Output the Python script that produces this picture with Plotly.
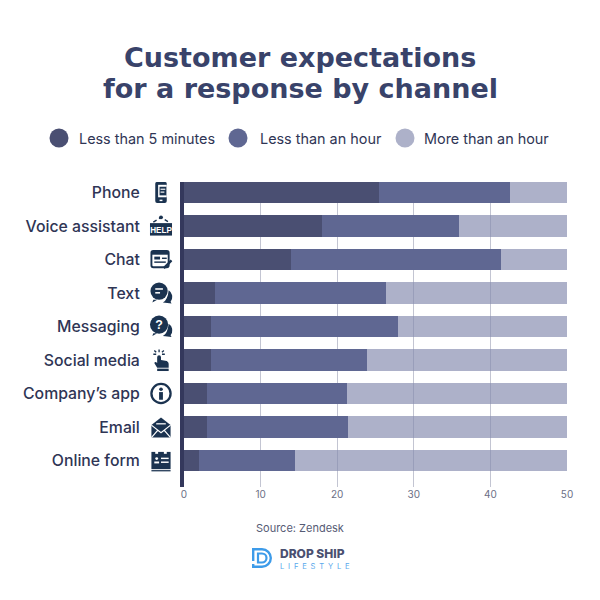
import base64
import plotly.graph_objects as go

categories = ["Phone", "Voice assistant", "Chat", "Text", "Messaging", "Social media", "Company’s app", "Email", "Online form"]
under_5_min = [25.4, 18.0, 14.0, 4.0, 3.5, 3.5, 3.0, 3.0, 2.0]
under_hour = [17.1, 17.9, 27.4, 22.4, 24.5, 20.4, 18.3, 18.4, 12.5]
over_hour = [7.5, 14.1, 8.6, 23.6, 22.0, 26.1, 28.7, 28.6, 35.5]
series_names = ["Less than 5 minutes", "Less than an hour", "More than an hour"]
x_ticks = [0, 10, 20, 30, 40, 50]
title_lines = ["Customer expectations", "for a response by channel"]
source_text = "Source: Zendesk"

FONT = "Inter"
W = H = 600
L, R, T, B = 184, 567, 182, 487
NAVY = "#1b3350"

ICONS = [
    '<rect x="6" y="1" width="12" height="22" rx="2" fill="{c}"/><rect x="9" y="4" width="9" height="13" fill="#fff"/><rect x="10.5" y="6" width="7" height="9" fill="{c}"/><rect x="11.5" y="8" width="5" height="1.2" fill="#fff"/><rect x="11.5" y="11" width="4" height="1.2" fill="#fff"/><rect x="10.5" y="19.5" width="3" height="1.5" fill="#fff"/>',
    '<path d="M4 8 L12 3 L20 8" fill="none" stroke="{c}" stroke-width="1.5" stroke-dasharray="4 3"/><circle cx="12" cy="3" r="2" fill="{c}"/><rect x="0.5" y="9" width="23" height="13" fill="{c}"/><text x="12" y="19" font-family="Liberation Sans" font-weight="700" font-size="8.5" text-anchor="middle" fill="#fff">HELP</text>',
    '<rect x="2" y="3" width="18" height="17" rx="2" fill="none" stroke="{c}" stroke-width="2"/><rect x="2" y="3" width="18" height="4" fill="{c}"/><rect x="5" y="9" width="6" height="3" fill="{c}"/><rect x="13" y="10" width="5" height="1.5" fill="{c}"/><rect x="5" y="14" width="12" height="1.5" fill="{c}"/><path d="M15 21 L23 13" stroke="{c}" stroke-width="2.5"/>',
    '<circle cx="10" cy="10" r="9" fill="{c}"/><path d="M4 19 L3 22 L8 19Z" fill="{c}"/><rect x="6" y="7" width="8" height="1.6" fill="#fff"/><rect x="6" y="11" width="5" height="1.6" fill="#fff"/><path d="M20 9 A8 8 0 0 1 22 21 L23 23 L14 22 Q19 19 20 9Z" fill="{c}"/>',
    '<circle cx="10" cy="10" r="9.5" fill="{c}"/><path d="M4 19 L3 22 L8 19Z" fill="{c}"/><text x="10" y="15" font-family="Liberation Sans" font-weight="700" font-size="13" text-anchor="middle" fill="#fff">?</text><path d="M20 9 A8 8 0 0 1 22 21 L23 23 L14 22 Q19 19 20 9Z" fill="{c}"/>',
    '<path d="M8 9 Q8 7 10 7 Q12 7 12 9 L12 12 L18 13 Q20 14 20 16 L20 20 L8 20 L5 15 Q6 13 8 15Z" fill="{c}"/><rect x="8" y="21" width="12" height="2.5" fill="{c}"/><path d="M10 1 V4 M4 6 H7 M5 2 L7 4 M15 2 L13 4 M13 6 H16" stroke="{c}" stroke-width="1.4"/>',
    '<circle cx="12" cy="12" r="10" fill="none" stroke="{c}" stroke-width="2.4"/><circle cx="12" cy="7.5" r="1.9" fill="{c}"/><rect x="10" y="10.5" width="4" height="8" fill="{c}"/>',
    '<path d="M2 10 L12 2 L22 10 L22 23 L2 23Z" fill="{c}"/><path d="M2 10 L12 18 L22 10 M2 23 L9 15 M22 23 L15 15" fill="none" stroke="#fff" stroke-width="1.3"/><rect x="7" y="8" width="10" height="1.3" fill="#fff"/>',
    '<rect x="2" y="3" width="20" height="18" fill="{c}"/><rect x="6" y="1" width="3" height="4" fill="#fff"/><rect x="15" y="1" width="3" height="4" fill="#fff"/><circle cx="7.5" cy="10" r="1.5" fill="#fff"/><rect x="5" y="13" width="5" height="2" fill="#fff"/><rect x="12" y="9" width="8" height="1.5" fill="#fff"/><rect x="12" y="13" width="8" height="1.5" fill="#fff"/><rect x="2" y="22" width="20" height="1.3" fill="{c}"/>',
]
LOGO = ('<path d="M1.2 13 V1.2 H10 A8.8 8.8 0 0 1 10 18.8 H1.2 V16" fill="none" stroke="#3d9be9" stroke-width="2.4"/>'
        '<path d="M6 5.5 H10 A4.5 4.5 0 0 1 10 14.5 H6 Z" fill="none" stroke="#3d9be9" stroke-width="2.2"/>')


def svg(body, vb="0 0 24 24"):
    s = f'<svg xmlns="http://www.w3.org/2000/svg" viewBox="{vb}">{body}</svg>'
    return "data:image/svg+xml;base64," + base64.b64encode(s.encode()).decode()


fig = go.Figure()
colors = ["#4a4f72", "#5f6792", "rgba(133,139,175,0.67)"]
for name, vals, col in zip(series_names, [under_5_min, under_hour, over_hour], colors):
    fig.add_bar(y=categories, x=vals, name=name, orientation="h", marker=dict(color=col, line_width=0),
                width=0.63, showlegend=False)

images = []
for i, ic in enumerate(ICONS):
    images.append(dict(source=svg(ic.format(c=NAVY)), xref="paper", yref="y", x=(161 - L) / (R - L), y=categories[i],
                       sizex=23 / (R - L), sizey=23 / 33.5, sizing="contain", xanchor="center", yanchor="middle",
                       layer="above"))
images.append(dict(source=svg(LOGO, "0 0 20 20"), xref="paper", yref="paper", x=(262 - L) / (R - L), y=(B - 558) / (B - T),
                   sizex=20 / (R - L), sizey=20 / (B - T), xanchor="center", yanchor="middle", sizing="contain"))


def px_x(p):
    return (p - L) / (R - L)


def px_y(p):
    return (B - p) / (B - T)


def note(text, x, y, size, color, anchor="left", weight=400, font=FONT):
    return dict(text=text, x=px_x(x), y=px_y(y), xref="paper", yref="paper", showarrow=False, xanchor=anchor,
                yanchor="middle", font=dict(family=font, size=size, color=color, weight=weight))


annotations = [
    note(title_lines[0], 300, 57, 27, "#39436a", "center", 700, "DejaVu Sans"),
    note(title_lines[1], 300, 88, 27, "#39436a", "center", 700, "DejaVu Sans"),
    note(source_text, 300, 528, 11, "#565b75", "center"),
    note("DROP SHIP", 278, 553, 12, "#4a5070", "left", 800),
    note("L\u2002I\u2002F\u2002E\u2002S\u2002T\u2002Y\u2002L\u2002E", 278, 566.5, 7.6, "#5aa9ec", "left", 400),
]
shapes = []
for name, c, cx, tx in zip(series_names, ["#4a4f72", "#5f6792", "#adb1c9"], [59, 238, 405], [77, 258, 422]):
    annotations.append(note(name, tx, 138, 14.4, "#2f3555"))
    shapes.append(dict(type="circle", xref="paper", yref="paper", x0=px_x(cx - 9.5), x1=px_x(cx + 9.5),
                       y0=px_y(147.5), y1=px_y(128.5), fillcolor=c, line_width=0))

fig.update_layout(
    barmode="stack", width=W, height=H, autosize=False, paper_bgcolor="white", plot_bgcolor="white",
    margin=dict(l=L, r=W - R, t=T, b=H - B), font=dict(family=FONT),
    images=images, annotations=annotations, shapes=shapes,
    xaxis=dict(range=[0, 50], tickvals=x_ticks, showgrid=True, gridcolor="#c3c5d2", gridwidth=1, zeroline=False,
               ticks="", tickfont=dict(size=10, color="#6b6f85", family=FONT), showline=False),
    yaxis=dict(categoryorder="array", categoryarray=categories, range=[8.79, -0.313], showgrid=False, zeroline=False,
               showline=True, linewidth=4, linecolor="#34385c", ticks="", ticklabelstandoff=37,
               tickfont=dict(size=15.8, color="#2f3555", family=FONT, weight=500)),
)
fig.write_html("out.html", config=dict(displayModeBar=False), post_script="document.body.style.margin='0';")
